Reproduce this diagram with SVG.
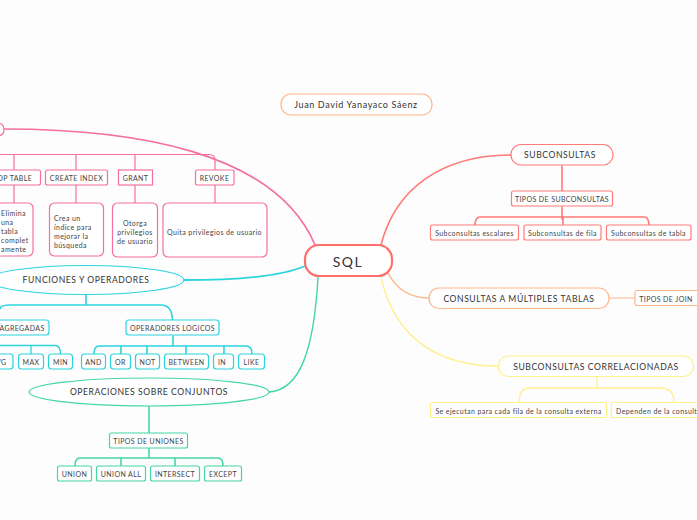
<svg xmlns="http://www.w3.org/2000/svg" width="697" height="520" viewBox="0 0 697 520">
<style>
text{font-family:"Lato","Liberation Sans",sans-serif;fill:#444;text-anchor:middle;dominant-baseline:central;font-size:7px;letter-spacing:.4px}
.c{fill:none;stroke-linecap:round}
.n{fill:#fff;stroke-width:1.2}
.pk{stroke:#f56f9f}.cy{stroke:#2bd4de}.gr{stroke:#45d6a6}.rd{stroke:#ff7a78}.or{stroke:#ffb68a}.ye{stroke:#fff08e}
.m{font-size:8.600px;letter-spacing:.56px;fill:#333}
.l{text-anchor:start}
</style>
<rect width="697" height="520" fill="#fdfdfd"/>
<g id="connectors">
<path class="c pk" stroke-width="1.6" d="M4 129C130 129 275 150 315 245"/>
<path class="c cy" stroke-width="1.8" d="M184 280C235 280 280 277 305 266"/>
<path class="c gr" stroke-width="1.4" d="M269 392C300 390 314 350 318 277"/>
<path class="c rd" stroke-width="1.6" d="M381 245C395 190 440 155 511 155"/>
<path class="c or" stroke-width="1.5" d="M388 273C397 290 410 298 429 298"/>
<path class="c ye" stroke-width="1.3" d="M381 277C395 340 440 366 498 366"/>
<path class="c or" stroke-width="1" d="M609 298H635"/>
<path class="c pk" stroke-width="1.200" d="M0 154.500H209Q215 154.500 215 160V170M14 154.500V170M76 154.500V170M135 154.500V170"/>
<path class="c pk" stroke-width="1.200" d="M14 185V203M76 185V203M135 185V203M215 185V203"/>
<path class="c cy" stroke-width="1.600" d="M86 295V305M0 309Q0 305 10 305H161Q172 305 172.500 320"/>
<path class="c cy" stroke-width="1.300" d="M0 345.500H55Q60.500 345.500 60.500 354M31 345.500V354"/>
<path class="c cy" stroke-width="1.600" d="M173 336V346M94 354Q94 346 99 346H246Q252 346 252 354M121 346V354M147 346V354M186 346V354M224 346V354"/>
<path class="c gr" stroke-width="1.600" d="M149 406V433M149 448V458M75 466Q75 458 80 458H218Q223 458 223 466M121 458V466M175 458V466"/>
<path class="c rd" stroke-width="1.600" d="M562 166V191M562 207V219M475 226Q475 217 480 217H644Q649 217 649 226M563 217V226"/>
<path class="c ye" stroke-width="1.300" d="M597 377V387M519 402Q519 388 530 388H660Q674 388 674 402"/>
</g>
<g id="n-title"><rect class="n or" x="281" y="94" width="151" height="21" rx="10"/><text x="356" y="104.500" class="m" style="font-size:9px;letter-spacing:.64px">Juan David Yanayaco Sáenz</text></g>
<g id="n-sql"><rect x="305" y="245" width="87" height="31" rx="14" fill="#fff" stroke="#ff6f6b" stroke-width="2.200"/><text x="348" y="261" style="font-size:14px;letter-spacing:1.500px;fill:#333">SQL</text></g>
<g id="n-dcl"><rect class="n pk" x="-20" y="123" width="24" height="13" rx="6"/></g>
<g id="n-drop"><rect class="n pk" x="-21" y="170" width="61.500" height="15" rx="2"/><text x="9.500" y="177.500">DROP TABLE</text></g>
<g id="n-index"><rect class="n pk" x="45.500" y="170" width="62" height="15" rx="2"/><text x="76.500" y="177.500">CREATE INDEX</text></g>
<g id="n-grant"><rect class="n pk" x="118.500" y="170" width="34" height="15" rx="0"/><text x="135.500" y="177.500">GRANT</text></g>
<g id="n-revoke"><rect class="n pk" x="195.500" y="170" width="38.500" height="15" rx="2"/><text x="214.500" y="177.500">REVOKE</text></g>
<g id="n-drop-d"><rect class="n pk" x="-20" y="203" width="53" height="53" rx="5"/><text class="l" x="1" y="212.500">Elimina</text><text class="l" x="1" y="221.500">una</text><text class="l" x="1" y="230.500">tabla</text><text class="l" x="1" y="239.500">complet</text><text class="l" x="1" y="248.500">amente</text></g>
<g id="n-index-d"><rect class="n pk" x="49.500" y="203" width="54" height="53" rx="5"/><text class="l" x="54" y="217.500">Crea un</text><text class="l" x="54" y="226.500">índice para</text><text class="l" x="54" y="235.500">mejorar la</text><text class="l" x="54" y="244.500">búsqueda</text></g>
<g id="n-grant-d"><rect class="n pk" x="112.500" y="203" width="45" height="54" rx="5"/><text x="135" y="222.500">Otorga</text><text x="135" y="231.500">privilegios</text><text x="135" y="240.500">de usuario</text></g>
<g id="n-revoke-d"><rect class="n pk" x="163" y="203" width="104" height="54" rx="5"/><text x="214.500" y="231.500">Quita privilegios de usuario</text></g>
<g id="n-func"><ellipse class="n cy" cx="86" cy="280" rx="98" ry="14.500"/><text class="m" x="86" y="280">FUNCIONES Y OPERADORES</text></g>
<g id="n-agg"><rect class="n cy" x="-20" y="320" width="69" height="15" rx="3"/><text x="22" y="327.500">AGREGADAS</text></g>
<g id="n-ops"><rect class="n cy" x="126" y="320" width="93" height="15" rx="3"/><text x="172.500" y="327.500">OPERADORES LOGICOS</text></g>
<g id="n-avg"><rect class="n cy" x="-20" y="354" width="33" height="15" rx="3"/><text x="-1" y="361.500">AVG</text></g>
<g id="n-max"><rect class="n cy" x="18.500" y="354" width="25" height="15" rx="3"/><text x="31" y="361.500">MAX</text></g>
<g id="n-min"><rect class="n cy" x="48.500" y="354" width="24" height="15" rx="3"/><text x="60.500" y="361.500">MIN</text></g>
<g id="n-and"><rect class="n cy" x="81.500" y="354" width="24" height="15" rx="3"/><text x="93.500" y="361.500">AND</text></g>
<g id="n-or"><rect class="n cy" x="110.500" y="354" width="20" height="15" rx="3"/><text x="120.500" y="361.500">OR</text></g>
<g id="n-not"><rect class="n cy" x="135.500" y="354" width="24" height="15" rx="3"/><text x="147.500" y="361.500">NOT</text></g>
<g id="n-btw"><rect class="n cy" x="164.500" y="354" width="44" height="15" rx="3"/><text x="186.500" y="361.500">BETWEEN</text></g>
<g id="n-in"><rect class="n cy" x="213.500" y="354" width="20" height="15" rx="3"/><text x="222" y="361.500">IN</text></g>
<g id="n-like"><rect class="n cy" x="238.500" y="354" width="26" height="15" rx="3"/><text x="251.500" y="361.500">LIKE</text></g>
<g id="n-conj"><ellipse class="n gr" cx="149" cy="392" rx="120" ry="14"/><text class="m" x="149" y="392">OPERACIONES SOBRE CONJUNTOS</text></g>
<g id="n-tipos"><rect class="n gr" x="109.500" y="433" width="78" height="15" rx="2"/><text x="148.500" y="440.500">TIPOS DE UNIONES</text></g>
<g id="n-union"><rect class="n gr" x="57.500" y="466" width="34" height="15" rx="2"/><text x="74.500" y="474">UNION</text></g>
<g id="n-unionall"><rect class="n gr" x="96.500" y="466" width="49" height="15" rx="2"/><text x="121" y="474">UNION ALL</text></g>
<g id="n-inter"><rect class="n gr" x="150.500" y="466" width="49" height="15" rx="2"/><text x="175" y="474">INTERSECT</text></g>
<g id="n-except"><rect class="n gr" x="204.500" y="466" width="37" height="15" rx="2"/><text x="223" y="474">EXCEPT</text></g>
<g id="n-sub"><rect class="n rd" x="511" y="144.500" width="102" height="20.500" rx="10"/><text class="m" x="560" y="155">SUBCONSULTAS</text></g>
<g id="n-tiposub"><rect class="n rd" x="511.500" y="191" width="101" height="15" rx="2"/><text x="562" y="198.500">TIPOS DE SUBCONSULTAS</text></g>
<g id="n-esc"><rect class="n rd" x="430.500" y="225" width="88" height="15" rx="2"/><text x="474.500" y="232.500">Subconsultas escalares</text></g>
<g id="n-fila"><rect class="n rd" x="524" y="225" width="77" height="15" rx="2"/><text x="562.500" y="232.500">Subconsultas de fila</text></g>
<g id="n-tabla"><rect class="n rd" x="606.500" y="225" width="84.500" height="15" rx="2"/><text x="648.500" y="232.500">Subconsultas de tabla</text></g>
<g id="n-multi"><rect class="n or" x="429" y="288" width="180" height="20.500" rx="10"/><text class="m" x="519" y="298.500">CONSULTAS A MÚLTIPLES TABLAS</text></g>
<g id="n-join"><rect class="n or" x="635" y="290.500" width="70" height="15" rx="2"/><text x="666" y="298.500">TIPOS DE JOIN</text></g>
<g id="n-corr"><rect class="n ye" x="498.500" y="356" width="195" height="20.500" rx="10"/><text class="m" x="596" y="366.500">SUBCONSULTAS CORRELACIONADAS</text></g>
<g id="n-ej"><rect class="n ye" x="430.500" y="402.500" width="176" height="15" rx="2"/><text x="518.500" y="410.500">Se ejecutan para cada fila de la consulta externa</text></g>
<g id="n-dep"><rect class="n ye" x="611.500" y="402.500" width="110" height="15" rx="2"/><text class="l" x="616" y="410.500">Dependen de la consulta</text></g>
</svg>
